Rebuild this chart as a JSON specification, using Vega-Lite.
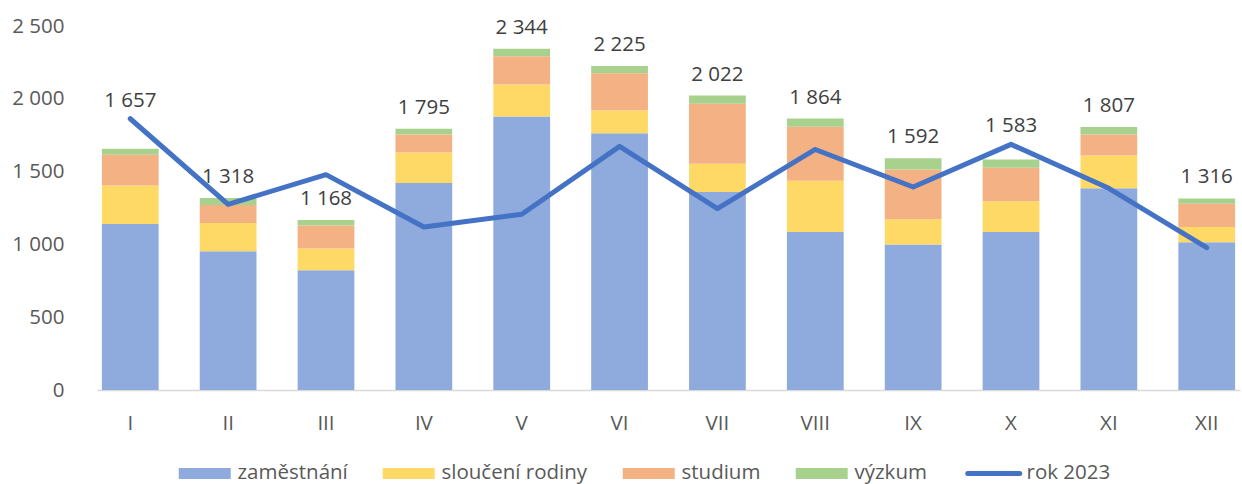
{
  "$schema": "https://vega.github.io/schema/vega-lite/v6.json",
  "width": 1143,
  "height": 364,
  "autosize": {"type": "none"},
  "padding": {"left": 97, "top": 26, "right": 2, "bottom": 94},
  "config": {
    "view": {"stroke": null},
    "font": "Open Sans",
    "locale": {"number": {"decimal": ",", "thousands": " ", "grouping": [3], "currency": ["", " Kč"]}}
  },
  "datasets": {
    "slozky": [
      {"mesic": "I", "typ": "zaměstnání", "poradi": 1, "pocet": 1140},
      {"mesic": "I", "typ": "sloučení rodiny", "poradi": 2, "pocet": 265},
      {"mesic": "I", "typ": "studium", "poradi": 3, "pocet": 210},
      {"mesic": "I", "typ": "výzkum", "poradi": 4, "pocet": 42},
      {"mesic": "II", "typ": "zaměstnání", "poradi": 1, "pocet": 953},
      {"mesic": "II", "typ": "sloučení rodiny", "poradi": 2, "pocet": 194},
      {"mesic": "II", "typ": "studium", "poradi": 3, "pocet": 124},
      {"mesic": "II", "typ": "výzkum", "poradi": 4, "pocet": 47},
      {"mesic": "III", "typ": "zaměstnání", "poradi": 1, "pocet": 823},
      {"mesic": "III", "typ": "sloučení rodiny", "poradi": 2, "pocet": 148},
      {"mesic": "III", "typ": "studium", "poradi": 3, "pocet": 158},
      {"mesic": "III", "typ": "výzkum", "poradi": 4, "pocet": 39},
      {"mesic": "IV", "typ": "zaměstnání", "poradi": 1, "pocet": 1422},
      {"mesic": "IV", "typ": "sloučení rodiny", "poradi": 2, "pocet": 210},
      {"mesic": "IV", "typ": "studium", "poradi": 3, "pocet": 123},
      {"mesic": "IV", "typ": "výzkum", "poradi": 4, "pocet": 40},
      {"mesic": "V", "typ": "zaměstnání", "poradi": 1, "pocet": 1879},
      {"mesic": "V", "typ": "sloučení rodiny", "poradi": 2, "pocet": 219},
      {"mesic": "V", "typ": "studium", "poradi": 3, "pocet": 194},
      {"mesic": "V", "typ": "výzkum", "poradi": 4, "pocet": 52},
      {"mesic": "VI", "typ": "zaměstnání", "poradi": 1, "pocet": 1764},
      {"mesic": "VI", "typ": "sloučení rodiny", "poradi": 2, "pocet": 156},
      {"mesic": "VI", "typ": "studium", "poradi": 3, "pocet": 256},
      {"mesic": "VI", "typ": "výzkum", "poradi": 4, "pocet": 49},
      {"mesic": "VII", "typ": "zaměstnání", "poradi": 1, "pocet": 1360},
      {"mesic": "VII", "typ": "sloučení rodiny", "poradi": 2, "pocet": 194},
      {"mesic": "VII", "typ": "studium", "poradi": 3, "pocet": 412},
      {"mesic": "VII", "typ": "výzkum", "poradi": 4, "pocet": 56},
      {"mesic": "VIII", "typ": "zaměstnání", "poradi": 1, "pocet": 1086},
      {"mesic": "VIII", "typ": "sloučení rodiny", "poradi": 2, "pocet": 352},
      {"mesic": "VIII", "typ": "studium", "poradi": 3, "pocet": 370},
      {"mesic": "VIII", "typ": "výzkum", "poradi": 4, "pocet": 56},
      {"mesic": "IX", "typ": "zaměstnání", "poradi": 1, "pocet": 999},
      {"mesic": "IX", "typ": "sloučení rodiny", "poradi": 2, "pocet": 174},
      {"mesic": "IX", "typ": "studium", "poradi": 3, "pocet": 342},
      {"mesic": "IX", "typ": "výzkum", "poradi": 4, "pocet": 77},
      {"mesic": "X", "typ": "zaměstnání", "poradi": 1, "pocet": 1086},
      {"mesic": "X", "typ": "sloučení rodiny", "poradi": 2, "pocet": 210},
      {"mesic": "X", "typ": "studium", "poradi": 3, "pocet": 231},
      {"mesic": "X", "typ": "výzkum", "poradi": 4, "pocet": 56},
      {"mesic": "XI", "typ": "zaměstnání", "poradi": 1, "pocet": 1385},
      {"mesic": "XI", "typ": "sloučení rodiny", "poradi": 2, "pocet": 226},
      {"mesic": "XI", "typ": "studium", "poradi": 3, "pocet": 144},
      {"mesic": "XI", "typ": "výzkum", "poradi": 4, "pocet": 52},
      {"mesic": "XII", "typ": "zaměstnání", "poradi": 1, "pocet": 1015},
      {"mesic": "XII", "typ": "sloučení rodiny", "poradi": 2, "pocet": 105},
      {"mesic": "XII", "typ": "studium", "poradi": 3, "pocet": 160},
      {"mesic": "XII", "typ": "výzkum", "poradi": 4, "pocet": 36}
    ],
    "souhrn": [
      {"mesic": "I", "celkem": 1657, "rok2023": 1863, "serie": "rok 2023"},
      {"mesic": "II", "celkem": 1318, "rok2023": 1275, "serie": "rok 2023"},
      {"mesic": "III", "celkem": 1168, "rok2023": 1479, "serie": "rok 2023"},
      {"mesic": "IV", "celkem": 1795, "rok2023": 1120, "serie": "rok 2023"},
      {"mesic": "V", "celkem": 2344, "rok2023": 1207, "serie": "rok 2023"},
      {"mesic": "VI", "celkem": 2225, "rok2023": 1673, "serie": "rok 2023"},
      {"mesic": "VII", "celkem": 2022, "rok2023": 1246, "serie": "rok 2023"},
      {"mesic": "VIII", "celkem": 1864, "rok2023": 1652, "serie": "rok 2023"},
      {"mesic": "IX", "celkem": 1592, "rok2023": 1394, "serie": "rok 2023"},
      {"mesic": "X", "celkem": 1583, "rok2023": 1687, "serie": "rok 2023"},
      {"mesic": "XI", "celkem": 1807, "rok2023": 1385, "serie": "rok 2023"},
      {"mesic": "XII", "celkem": 1316, "rok2023": 978, "serie": "rok 2023"}
    ]
  },
  "encoding": {
    "x": {
      "field": "mesic",
      "type": "ordinal",
      "sort": ["I", "II", "III", "IV", "V", "VI", "VII", "VIII", "IX", "X", "XI", "XII"],
      "scale": {"paddingInner": 0.42, "paddingOuter": 0.05},
      "axis": {
        "title": null,
        "labelAngle": 0,
        "labelFontSize": 20.5,
        "labelColor": "#595959",
        "labelPadding": 23,
        "ticks": false,
        "domainColor": "#D9D9D9",
        "domainWidth": 1.5
      }
    }
  },
  "layer": [
    {
      "data": {"name": "slozky"},
      "mark": {"type": "bar"},
      "encoding": {
        "y": {
          "field": "pocet",
          "type": "quantitative",
          "stack": "zero",
          "scale": {"domain": [0, 2500], "nice": false},
          "axis": {
            "title": null,
            "values": [0, 500, 1000, 1500, 2000, 2500],
            "format": ",d",
            "grid": false,
            "domain": false,
            "ticks": false,
            "labelFontSize": 20.5,
            "labelColor": "#595959",
            "labelPadding": 33
          }
        },
        "order": {"field": "poradi", "type": "quantitative", "sort": "ascending"},
        "color": {
          "field": "typ",
          "type": "nominal",
          "sort": ["zaměstnání", "sloučení rodiny", "studium", "výzkum"],
          "scale": {
            "domain": ["zaměstnání", "sloučení rodiny", "studium", "výzkum", "rok 2023"],
            "range": ["#8FAADC", "#FFD966", "#F4B183", "#A9D18E", "#4472C4"]
          },
          "legend": {
            "title": null,
            "orient": "none",
            "legendX": 77,
            "legendY": 437,
            "direction": "horizontal",
            "symbolSize": 121,
            "symbolStrokeWidth": 0,
            "labelOffset": 43,
            "columnPadding": 30,
            "labelFontSize": 20.5,
            "labelFont": "Open Sans",
            "labelColor": "#595959",
            "labelLimit": 0,
            "encode": {
              "symbols": {
                "update": {
                  "shape": {"signal": "datum.value === 'rok 2023' ? 'M-1,0H8.45' : 'M-1,-1H8.45V1H-1Z'"},
                  "stroke": {"signal": "datum.value === 'rok 2023' ? '#4472C4' : 'transparent'"},
                  "strokeWidth": {"signal": "datum.value === 'rok 2023' ? 5 : 0"},
                  "strokeCap": {"value": "round"},
                  "opacity": {"value": 1}
                }
              }
            }
          }
        }
      }
    },
    {
      "data": {"name": "souhrn"},
      "mark": {"type": "line", "strokeWidth": 5, "strokeCap": "round", "strokeJoin": "round"},
      "encoding": {
        "y": {"field": "rok2023", "type": "quantitative", "title": null, "scale": {"domain": [0, 2500], "nice": false}},
        "color": {"field": "serie", "type": "nominal"}
      }
    },
    {
      "data": {"name": "souhrn"},
      "transform": [{"filter": {"not": {"field": "mesic", "oneOf": ["I", "X"]}}}],
      "mark": {"type": "text", "baseline": "alphabetic", "dy": -15, "fontSize": 20.5, "color": "#404040"},
      "encoding": {
        "y": {"field": "celkem", "type": "quantitative", "title": null, "scale": {"domain": [0, 2500], "nice": false}},
        "text": {"field": "celkem", "type": "quantitative", "format": ",d"}
      }
    },
    {
      "data": {"name": "souhrn"},
      "transform": [{"filter": {"field": "mesic", "oneOf": ["I", "X"]}}],
      "mark": {"type": "text", "baseline": "alphabetic", "dy": -12, "fontSize": 20.5, "color": "#404040"},
      "encoding": {
        "y": {"field": "rok2023", "type": "quantitative", "title": null, "scale": {"domain": [0, 2500], "nice": false}},
        "text": {"field": "celkem", "type": "quantitative", "format": ",d"}
      }
    }
  ]
}
